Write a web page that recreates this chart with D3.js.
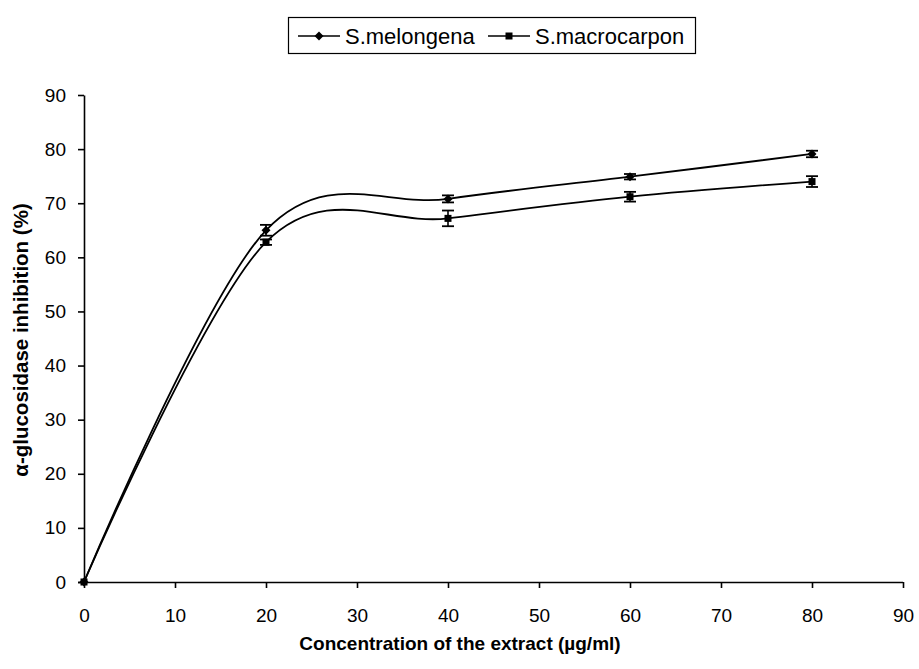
<!DOCTYPE html>
<html><head><meta charset="utf-8">
<script src="https://cdn.jsdelivr.net/npm/d3@7"></script>
<style>body{margin:0;background:#fff}svg{display:block}text{font-family:"Liberation Sans",Arial,sans-serif}</style>
</head><body>
<svg id="c" width="919" height="669"></svg>
<script>
const concentrations = [0, 20, 40, 60, 80];
const melongena = [0, 65.0, 70.8, 74.9, 79.1];
const melongenaErr = [0, 1.0, 0.65, 0.5, 0.6];
const macrocarpon = [0, 62.8, 67.2, 71.2, 74.0];
const macrocarponErr = [0, 0.5, 1.45, 0.9, 1.0];
const xTicks = [0,10,20,30,40,50,60,70,80,90];
const yTicks = [0,10,20,30,40,50,60,70,80,90];
const seriesNames = ["S.melongena", "S.macrocarpon"];

const svg = d3.select("#c");
const x = d3.scaleLinear().domain([0,90]).range([84,903]);
const y = d3.scaleLinear().domain([0,90]).range([582,95]);

// axes
const xa = svg.append("g").attr("transform","translate(0,582)")
  .call(d3.axisBottom(x).tickValues(xTicks).tickSize(6).tickPadding(21).tickSizeOuter(0));
const ya = svg.append("g").attr("transform","translate(84,0)")
  .call(d3.axisLeft(y).tickValues(yTicks).tickSize(6).tickPadding(12).tickSizeOuter(0));
[xa,ya].forEach(a=>{
  a.selectAll("path,line").attr("stroke","#000").attr("stroke-width",1.6);
  a.selectAll("text").attr("font-size",19).attr("fill","#000").attr("font-family","Liberation Sans, Arial, sans-serif");
});
xa.select(".domain").attr("d","M78,0.5H903");

const line = d3.line().x((d,i)=>x(concentrations[i])).y(d=>y(d)).curve(d3.curveCardinal.tension(0));

const series = [
  {name:seriesNames[0], vals:melongena, err:melongenaErr, shape:"diamond"},
  {name:seriesNames[1], vals:macrocarpon, err:macrocarponErr, shape:"square"}
];
function marker(g, shape, cx, cy){
  if(shape==="diamond"){
    g.append("path").attr("d",`M${cx},${cy-4.5}L${cx+4.5},${cy}L${cx},${cy+4.5}L${cx-4.5},${cy}Z`).attr("fill","#000");
  } else {
    g.append("rect").attr("x",cx-3.5).attr("y",cy-3.5).attr("width",7).attr("height",7).attr("fill","#000");
  }
}
series.forEach(s=>{
  svg.append("path").datum(s.vals).attr("d",line).attr("fill","none").attr("stroke","#000").attr("stroke-width",1.8);
  const g = svg.append("g");
  s.vals.forEach((v,i)=>{
    const cx = x(concentrations[i]);
    if(s.err[i]>0){
      const y1=y(v+s.err[i]), y2=y(v-s.err[i]);
      g.append("line").attr("x1",cx).attr("x2",cx).attr("y1",y1).attr("y2",y2).attr("stroke","#000").attr("stroke-width",1.6);
      [y1,y2].forEach(yy=>g.append("line").attr("x1",cx-6).attr("x2",cx+6).attr("y1",yy).attr("y2",yy).attr("stroke","#000").attr("stroke-width",1.8));
    }
    marker(g, s.shape, cx, y(v));
  });
});

// axis titles
svg.append("text").attr("x",460).attr("y",650).attr("text-anchor","middle").attr("font-size",19).attr("font-weight","bold").text("Concentration of the extract (µg/ml)");
svg.append("text").attr("transform","translate(28,340) rotate(-90)").attr("text-anchor","middle").attr("font-size",20.5).attr("font-weight","bold").text("α-glucosidase inhibition (%)");

// legend
const lg = svg.append("g");
lg.append("rect").attr("x",288.5).attr("y",17.5).attr("width",407).attr("height",36).attr("fill","#fff").attr("stroke","#000").attr("stroke-width",1.2);
const legendItems = [{x0:298,tx:345,shape:"diamond"},{x0:488,tx:535,shape:"square"}];
legendItems.forEach((it,i)=>{
  lg.append("line").attr("x1",it.x0).attr("x2",it.x0+42).attr("y1",36).attr("y2",36).attr("stroke","#000").attr("stroke-width",1.6);
  marker(lg, it.shape, it.x0+21, 36);
  lg.append("text").attr("x",it.tx).attr("y",44).attr("font-size",22).text(seriesNames[i]);
});
</script>
</body></html>
